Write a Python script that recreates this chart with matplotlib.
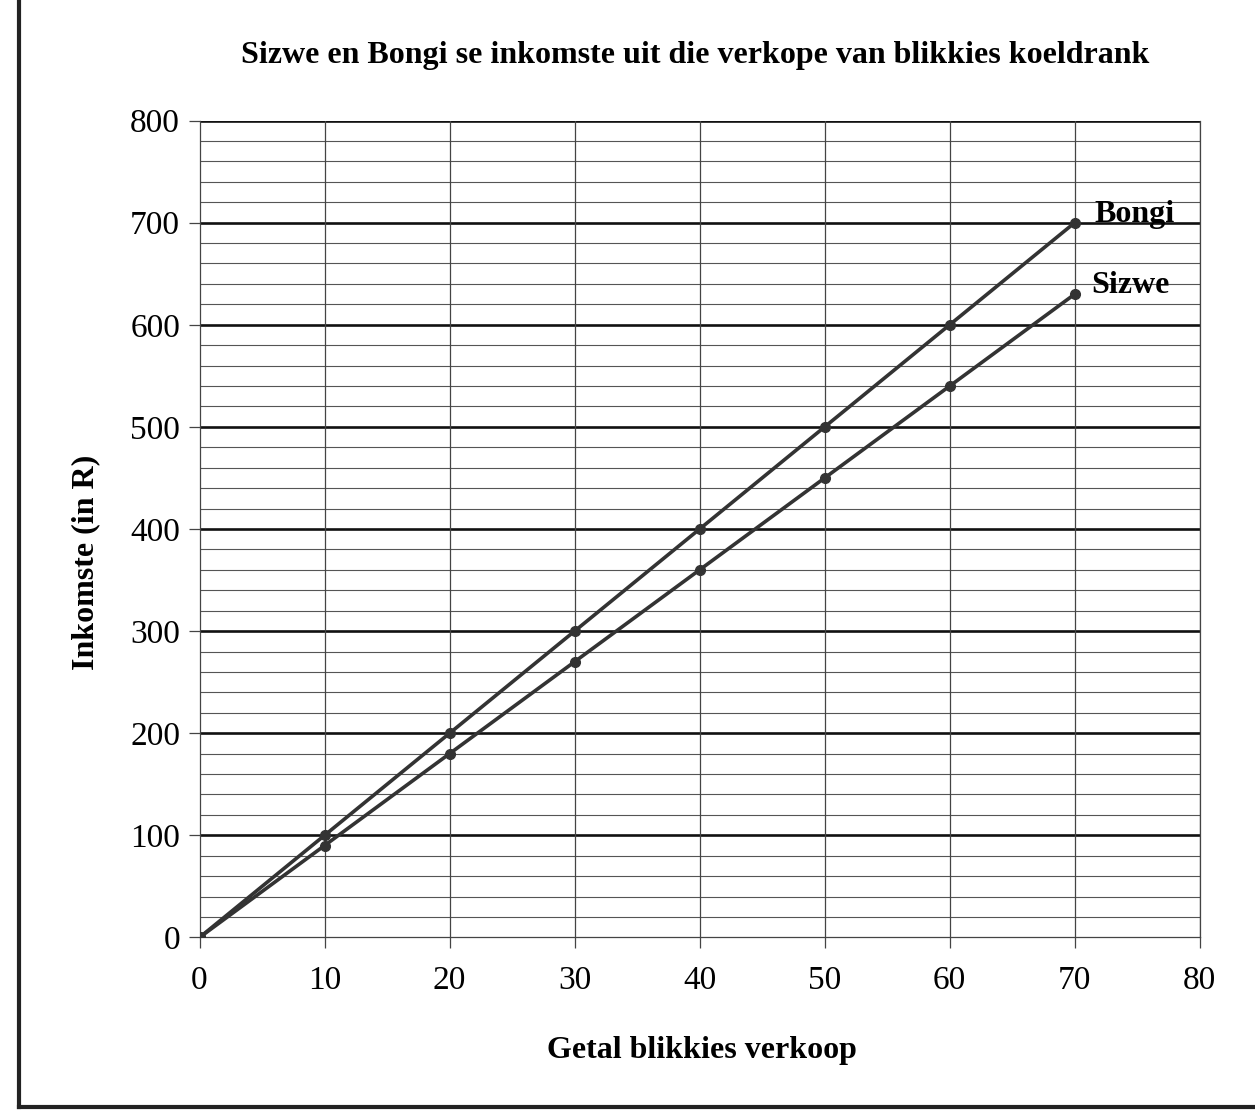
import matplotlib.pyplot as plt
from matplotlib.lines import Line2D

blikkies = [0, 10, 20, 30, 40, 50, 60, 70]
bongi = [0, 100, 200, 300, 400, 500, 600, 700]
sizwe = [0, 90, 180, 270, 360, 450, 540, 630]

plt.rcParams['font.family'] = ['Liberation Serif', 'DejaVu Serif']

fig = plt.figure(figsize=(12.55, 11.16), dpi=100)
ax = fig.add_axes([0.159, 0.160, 0.797, 0.732])

# gridlines: thin every 20, thick every 100
for v in range(20, 800, 20):
    if v % 100:
        ax.axhline(v, color='#555555', lw=0.8, zorder=1)
for v in range(100, 801, 100):
    ax.axhline(v, color='#111111', lw=1.9, zorder=1)
for v in range(10, 81, 10):
    ax.axvline(v, color='#444444', lw=0.9, zorder=1)

ax.plot(blikkies, bongi, color='#333333', lw=2.6, marker='o', ms=7, zorder=3)
ax.plot(blikkies, sizwe, color='#333333', lw=2.6, marker='o', ms=7, zorder=3)

ax.text(71.6, bongi[-1] + 8, 'Bongi', fontsize=23, fontweight='bold', va='center', ha='left')
ax.text(71.3, sizwe[-1] + 8, 'Sizwe', fontsize=23, fontweight='bold', va='center', ha='left')

ax.set_xlim(0, 80)
ax.set_ylim(0, 800)
ax.set_xticks(range(0, 81, 10))
ax.set_yticks(range(0, 801, 100))
ax.tick_params(axis='both', labelsize=24, length=8, width=0.9, color='#444444')
ax.tick_params(axis='x', pad=12)
ax.tick_params(axis='y', pad=6)
for s in ['left', 'right', 'bottom']:
    ax.spines[s].set_linewidth(0.9)
    ax.spines[s].set_color('#444444')
ax.spines['top'].set_visible(False)

fig.text(0.559, 0.059, 'Getal blikkies verkoop', fontsize=23, fontweight='bold',
         ha='center', va='center')
fig.text(0.068, 0.496, 'Inkomste (in R)', fontsize=23, fontweight='bold',
         ha='center', va='center', rotation=90)
fig.text(0.554, 0.950, 'Sizwe en Bongi se inkomste uit die verkope van blikkies koeldrank',
         fontsize=23, fontweight='bold', ha='center', va='center')

# page frame
fig.add_artist(Line2D([0.015, 0.015], [0.008, 1.0], color='#222222', lw=3))
fig.add_artist(Line2D([0.015, 1.0], [0.008, 0.008], color='#222222', lw=3))

fig.savefig('out.png', dpi=100)
